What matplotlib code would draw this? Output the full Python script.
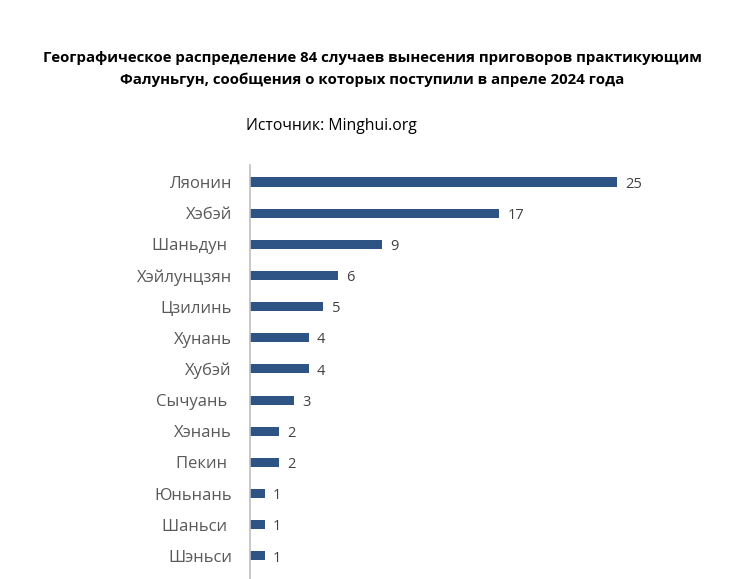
import matplotlib
matplotlib.use("Agg")
import matplotlib.pyplot as plt

plt.rcParams['font.family'] = ['Open Sans', 'DejaVu Sans']

regions = ["Ляонин", "Хэбэй", "Шаньдун ", "Хэйлунцзян", "Цзилинь", "Хунань", "Хубэй",
           "Сычуань ", "Хэнань", "Пекин ", "Юньнань", "Шаньси ", "Шэньси"]
cases = [25, 17, 9, 6, 5, 4, 4, 3, 2, 2, 1, 1, 1]

title = ("Географическое распределение 84 случаев вынесения приговоров практикующим\n"
         "Фалуньгун, сообщения о которых поступили в апреле 2024 года")
source = "Источник: Minghui.org"

W, H = 740, 579
fig = plt.figure(figsize=(W / 100, H / 100), dpi=100)
ax = fig.add_axes([250 / W, 0, 440 / W, (579 - 165) / H])

pos = list(range(len(regions)))
ax.barh(pos, cases, height=0.29, color="#2E5385")
ax.set_xlim(0, 30)
ax.set_ylim(12.74, -0.545)
ax.set_yticks(pos)
ax.set_yticklabels(regions, fontsize=12, color="#595959")
ax.tick_params(axis='y', length=0, pad=13)
ax.set_xticks([])
for s in ["top", "right", "bottom"]:
    ax.spines[s].set_visible(False)
ax.spines["left"].set_color("#BFBFBF")
ax.spines["left"].set_linewidth(1.2)

for p, v in zip(pos, cases):
    ax.annotate(str(v), (v, p), xytext=(6, -1.5), textcoords="offset points",
                va="center", ha="left", fontsize=10.5, color="#404040")

fig.text(372 / W, 1 - 69 / H, title, ha="center", va="center", fontsize=10.8,
         fontweight="bold", color="black", linespacing=1.7)
fig.text(331 / W, 1 - 126 / H, source, ha="center", va="center", fontsize=11.3, color="black")

fig.savefig("out.png", dpi=100)
